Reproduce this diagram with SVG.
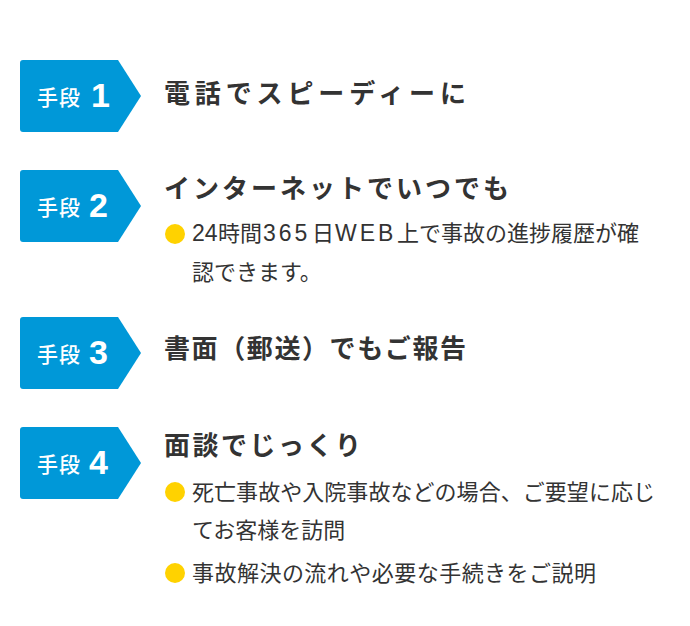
<svg xmlns="http://www.w3.org/2000/svg" width="690" height="626" viewBox="0 0 690 626">
<style>
.badge{fill:#0098d8}
.bl{font-family:"Noto Sans CJK JP","Noto Sans",sans-serif;font-size:21px;font-weight:500;fill:#fff;letter-spacing:1px}
.bn{font-family:"Liberation Sans",Arial,sans-serif;font-size:34px;font-weight:bold;fill:#fff}
.h{font-family:"Noto Sans CJK JP","Noto Sans",sans-serif;font-size:26px;font-weight:bold;fill:#333}
.t{font-family:"Noto Sans CJK JP","Noto Sans",sans-serif;font-size:22px;fill:#333}
.lat{font-family:"Liberation Sans",Arial,sans-serif;font-size:23px}
.dot{fill:#ffd200}
</style>
<defs>
<path id="tag" d="M23,0 H118 L141,36 L118,72 H23 Q20,72 20,69 V3 Q20,0 23,0 Z"/>
</defs>
<rect width="690" height="626" fill="#fff"/>
<g id="step1">
<use href="#tag" class="badge" y="60"/>
<text class="bl" x="37" y="105">手段</text>
<text class="bn" x="91" y="107">1</text>
<text class="h" x="164" y="103" textLength="302" lengthAdjust="spacing">電話でスピーディーに</text>
</g>
<g id="step2">
<use href="#tag" class="badge" y="170"/>
<text class="bl" x="37" y="215">手段</text>
<text class="bn" x="89" y="217">2</text>
<text class="h" x="164" y="198" textLength="345" lengthAdjust="spacing">インターネットでいつでも</text>
<circle class="dot" cx="175" cy="234" r="10"/>
<text class="t" x="192" y="241"><tspan class="lat" x="192">24</tspan><tspan x="218">時間</tspan><tspan class="lat" x="263" letter-spacing="3">365</tspan><tspan x="312">日</tspan><tspan class="lat" x="335" letter-spacing="3">WEB</tspan><tspan x="397">上で事故の進捗履歴が確</tspan></text>
<text class="t" x="192" y="280">認できます。</text>
</g>
<g id="step3">
<use href="#tag" class="badge" y="317"/>
<text class="bl" x="37" y="362">手段</text>
<text class="bn" x="89" y="364">3</text>
<text class="h" x="164" y="358" textLength="302" lengthAdjust="spacing">書面（郵送）でもご報告</text>
</g>
<g id="step4">
<use href="#tag" class="badge" y="427"/>
<text class="bl" x="37" y="472">手段</text>
<text class="bn" x="89" y="474">4</text>
<text class="h" x="164" y="455" textLength="197" lengthAdjust="spacing">面談でじっくり</text>
<circle class="dot" cx="175" cy="492" r="10"/>
<text class="t" x="192" y="500" textLength="463" lengthAdjust="spacing">死亡事故や入院事故などの場合、ご要望に応じ</text>
<text class="t" x="192" y="538">てお客様を訪問</text>
<circle class="dot" cx="175" cy="573" r="10"/>
<text class="t" x="192" y="581" textLength="404" lengthAdjust="spacing">事故解決の流れや必要な手続きをご説明</text>
</g>
<g id="connectors"></g>
</svg>
